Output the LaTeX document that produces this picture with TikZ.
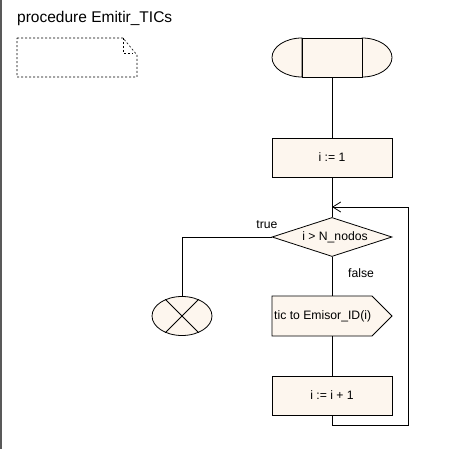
\documentclass[tikz,border=0pt]{standalone}
\usepackage{fontspec}
\setmainfont{Liberation Sans}
\usetikzlibrary{shapes.geometric,shapes.symbols,arrows.meta}
\definecolor{cream}{RGB}{253,246,238}
\begin{document}
\begin{tikzpicture}[x=1pt,y=-1pt,
  shp/.style={draw=black,fill=cream,line width=0.8pt},
  conn/.style={draw=black,line width=0.8pt},
  lbl/.style={font=\fontsize{12.2}{14}\selectfont,inner sep=0pt}]
\useasboundingbox (0,0) rectangle (449,449);
\fill[white] (0,0) rectangle (449,449);
\draw[line width=2pt,gray!70!black] (1,0) -- (1,449);
% title
\node[anchor=west,inner sep=0pt,font=\fontsize{15.5}{18}\selectfont] (title) at (17,18) {procedure Emitir\_TICs};
% note
\draw[line width=0.6pt,dash pattern=on 2pt off 2pt] (17,38) -- (123,38) -- (137,55) -- (137,77) -- (17,77) -- cycle;
\draw[line width=0.6pt,dash pattern=on 2pt off 2pt] (123,38) -- (123,53) -- (133,53);
% start terminator
\path[shp] (302,77) arc[start angle=90,end angle=270,x radius=30,y radius=19.5] -- cycle;
\path[shp] (362,77) arc[start angle=90,end angle=-90,x radius=30,y radius=19.5] -- cycle;
\node[shp,minimum width=60,minimum height=39,inner sep=0pt] (start) at (332,57.5) {};
% i := 1
\node[shp,minimum width=120,minimum height=39,inner sep=0pt,lbl] (init) at (332,157.5) {i := 1};
% diamond
\node[shp,diamond,aspect=3,minimum width=120,minimum height=39,inner sep=0pt,lbl] (dec) at (332,237) {};
\node[lbl] (dect) at (335,237) {i > N\_nodos};
% signal
\path[shp] (272,296) -- (372,296) -- (392,316) -- (372,336) -- (272,336) -- cycle;
\node[lbl,anchor=west] (sig) at (274,316) {tic to Emisor\_ID(i)};
\coordinate (sigtop) at (332,296);
\coordinate (sigbot) at (332,336);
% i := i + 1
\node[shp,minimum width=120,minimum height=39,inner sep=0pt,lbl] (inc) at (332,395.5) {i := i + 1};
% end
\node[shp,ellipse,minimum width=60,minimum height=39,inner sep=0pt] (stop) at (182,316) {};
\draw[line width=0.8pt] (stop.135) -- (stop.-45) (stop.45) -- (stop.-135);
% connectors
\coordinate (merge) at (332,207);
\coordinate (lb) at (332,425);
\coordinate (rb) at (408,425);
\coordinate (rt) at (408,207);
\coordinate (lt) at (182,237);
\draw[conn] (start.south) -- (init.north);
\draw[conn] (init.south) -- (dec.north);
\draw[conn] (dec.west) -- (lt) -- (stop.north);
\draw[conn] (dec.south) -- (sigtop);
\draw[conn] (sigbot) -- (inc.north);
\draw[conn,-{Straight Barb[length=8pt,width=10pt]}] (inc.south) -- (lb) -- (rb) -- (rt) -- (merge);
\node[lbl] (tl) at (267,225) {true};
\node[lbl] (fl) at (361,273) {false};
\end{tikzpicture}
\end{document}
